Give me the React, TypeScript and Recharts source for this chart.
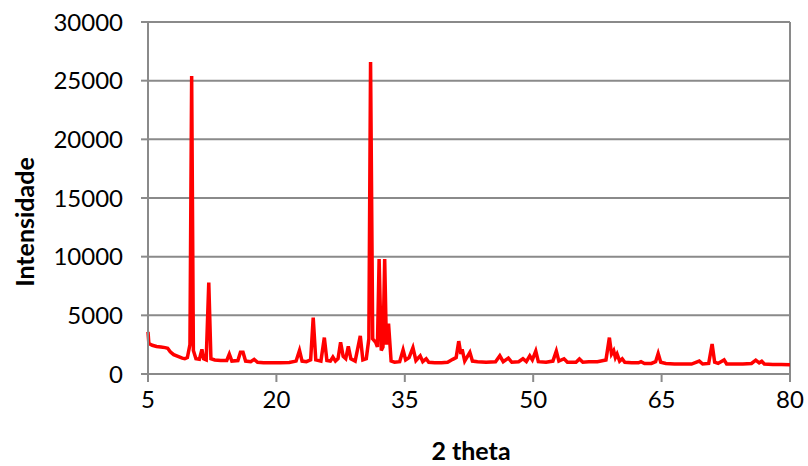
import { CartesianGrid, Line, LineChart, ReferenceLine, XAxis, YAxis } from "recharts";

const twoTheta = [
  5.0, 5.1, 5.5, 6.0, 6.5, 7.0, 7.3, 7.6, 8.0, 8.5, 9.0, 9.3, 9.6, 9.9, 10.1, 10.3, 10.6, 11.0, 11.3, 11.5,
  11.8, 12.1, 12.35, 12.8, 13.5, 14.2, 14.5, 14.8, 15.5, 15.8, 16.1, 16.4, 17.0, 17.4, 17.8, 18.5, 19.5, 20.5,
  21.5, 22.3, 22.7, 23.0, 23.5, 24.0, 24.3, 24.6, 25.2, 25.6, 25.9, 26.3, 26.6, 26.9, 27.2, 27.5, 27.8, 28.1,
  28.4, 28.7, 29.2, 29.8, 30.1, 30.5, 30.8, 31.0, 31.25, 31.6, 31.8, 32.0, 32.25, 32.45, 32.65, 32.85, 33.1,
  33.4, 33.8, 34.4, 34.8, 35.1, 35.5, 35.95, 36.3, 36.8, 37.1, 37.5, 37.8, 38.5, 39.3, 40.0, 40.6, 41.0, 41.3,
  41.55, 41.7, 42.0, 42.6, 42.9, 43.5, 44.5, 45.6, 46.1, 46.5, 47.1, 47.5, 48.3, 48.8, 49.2, 49.6, 49.9, 50.3,
  50.6, 51.5, 52.3, 52.7, 53.0, 53.6, 54.0, 55.0, 55.4, 55.8, 56.5, 57.5, 58.5, 58.9, 59.15, 59.4, 59.6, 59.8,
  60.1, 60.4, 60.7, 61.5, 62.3, 62.6, 63.0, 63.8, 64.3, 64.6, 64.9, 65.5, 66.5, 67.5, 68.5, 69.4, 69.8, 70.5,
  70.9, 71.2, 71.6, 72.3, 72.6, 73.5, 74.5, 75.5, 76.0, 76.4, 76.7, 77.0, 78.0, 79.0, 80.0,
];

const intensity = [
  3600, 2600, 2450, 2350, 2300, 2250, 2200, 1900, 1650, 1500, 1350, 1300, 1400, 2500, 25400, 2000, 1300, 1250, 2100, 1300,
  1200, 7800, 1300, 1200, 1150, 1150, 1700, 1100, 1150, 1850, 1850, 1100, 1050, 1250, 1000, 950, 950, 950,
  980, 1100, 2000, 1100, 1050, 1200, 4800, 1200, 1100, 3100, 1150, 1100, 1450, 1100, 1300, 2700, 1500, 1300,
  2350, 1300, 1100, 3250, 1200, 1300, 3000, 26600, 3000, 2700, 2300, 9800, 2000, 2300, 9800, 2500, 4300,
  1100, 1000, 1050, 2050, 1200, 1400, 2250, 1150, 1550, 1050, 1300, 1000, 950, 950, 1000, 1250, 1400, 2800,
  1700, 2100, 1100, 1850, 1100, 1050, 1000, 1050, 1550, 1050, 1350, 1000, 1050, 1300, 1050, 1550, 1200, 1950,
  1050, 1000, 1100, 1950, 1100, 1300, 1000, 1000, 1280, 1000, 1050, 1050, 1200, 3100, 1700, 2000, 1400, 1700,
  1100, 1300, 1000, 950, 950, 1050, 900, 900, 1050, 1750, 1000, 900, 850, 850, 850, 1100, 850, 900,
  2550, 1000, 900, 1200, 850, 850, 850, 900, 1180, 950, 1080, 850, 800, 800, 780,
];

const xTicks = [5, 20, 35, 50, 65, 80];
const yTicks = [0, 5000, 10000, 15000, 20000, 25000, 30000];

const data = twoTheta.map((t, i) => ({ t, y: intensity[i] }));

const FONT = "Lato, 'Open Sans', sans-serif";
const GRAY = "#8a8a8a";

export default function App() {
  return (
    <div style={{ position: "absolute", left: 0, top: 0, width: 808, height: 466, background: "#fff", fontFamily: FONT }}>
      <LineChart width={808} height={466} data={data} margin={{ top: 22, right: 18, bottom: 0, left: 0 }}>
        <CartesianGrid vertical={false} stroke={GRAY} strokeWidth={2} />
        <XAxis
          dataKey="t"
          type="number"
          domain={[5, 80]}
          ticks={xTicks}
          height={92}
          stroke={GRAY}
          strokeWidth={2}
          tickSize={8}
          tickMargin={9}
          tick={{ fill: "#000", fontSize: 24, fontFamily: FONT }}
          label={{
            content: () => (
              <text x={471} y={450} textAnchor="middle" dominantBaseline="central" fontSize={25} fontWeight="bold" fontFamily={FONT} fill="#000">
                2 theta
              </text>
            ),
          }}
        />
        <YAxis
          type="number"
          domain={[0, 30000]}
          ticks={yTicks}
          width={148}
          stroke={GRAY}
          strokeWidth={2}
          tickSize={7}
          tickMargin={18}
          tick={{ fill: "#000", fontSize: 24, fontFamily: FONT }}
          label={{
            content: () => (
              <text x={24} y={222} transform="rotate(-90 24 222)" textAnchor="middle" dominantBaseline="central" fontSize={25} fontWeight="bold" fontFamily={FONT} fill="#000">
                Intensidade
              </text>
            ),
          }}
        />
        <ReferenceLine x={80} stroke={GRAY} strokeWidth={2} />
        <Line type="linear" dataKey="y" stroke="#ff0000" strokeWidth={3.5} dot={false} isAnimationActive={false} />
      </LineChart>
    </div>
  );
}
